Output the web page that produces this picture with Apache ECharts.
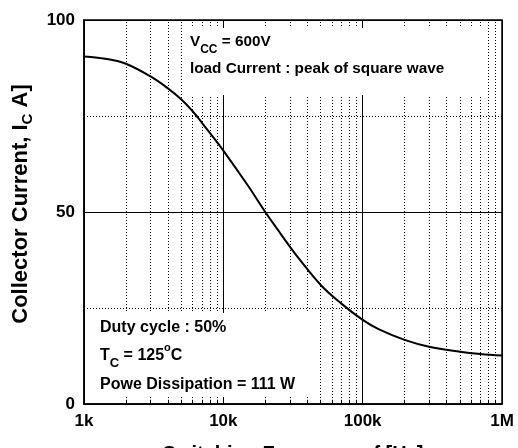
<!DOCTYPE html>
<html><head><meta charset="utf-8">
<script src="https://cdn.jsdelivr.net/npm/echarts@6/dist/echarts.min.js"></script>
<style>html,body{margin:0;padding:0;background:#fff}#c{width:518px;height:448px}</style>
</head><body><div id="c"></div>
<script>
// Switching frequency [Hz]
const frequency = [1000, 1500, 2000, 3000, 4000, 5000, 6000, 7000, 8000, 10000, 15000, 20000, 25000, 30000, 35000, 50000, 70000, 100000, 130000, 200000, 300000, 500000, 700000, 1000000];
// Collector current [A]
const collectorCurrent = [90.5, 89.8, 88.6, 85.3, 82.2, 79.3, 76.3, 73.3, 70.6, 66.0, 56.9, 50.0, 45.0, 41.0, 37.8, 31.0, 26.2, 21.9, 19.5, 16.7, 14.9, 13.6, 13.0, 12.6];
const xTickLabels = {1000: '1k', 10000: '10k', 100000: '100k', 1000000: '1M'};
const decades = [1000, 10000, 100000];
const minorMultipliers = [2, 3, 4, 5, 6, 7, 8, 9];

const FONT = 'Liberation Sans, Arial, Helvetica, sans-serif';
const minorX = [];
decades.forEach(d => minorMultipliers.forEach(m => minorX.push(d * m)));

const chart = echarts.init(document.getElementById('c'), null, {renderer: 'canvas'});
const txt = (fs) => ({fontFamily: FONT, fontWeight: 'bold', color: '#000', fontSize: fs});

chart.setOption({
  animation: false,
  backgroundColor: '#fff',
  grid: {left: 84, right: 16, top: 20, bottom: 44, containLabel: false, outerBoundsMode: 'none',
    show: true, borderColor: '#000', borderWidth: 1.5, backgroundColor: 'transparent'},
  xAxis: {
    type: 'log', logBase: 10, min: 1000, max: 1000000,
    name: 'Switching Frequency, f [Hz]', nameLocation: 'middle', nameGap: 40,
    nameTextStyle: Object.assign(txt(20), {verticalAlign: 'top'}),
    axisLine: {show: true, lineStyle: {color: '#000', width: 1.5}},
    axisTick: {show: true, inside: true, length: 5, lineStyle: {color: '#000'}},
    axisLabel: Object.assign(txt(17), {margin: 9, formatter: v => xTickLabels[Math.round(v)] || ''}),
    splitLine: {show: true, lineStyle: {color: '#000', width: 1}}
  },
  yAxis: {
    type: 'value', min: 0, max: 100, interval: 50,
    name: '{a|Collector Current, I}{s|C}{a| A]}', nameLocation: 'middle', nameGap: 48,
    nameTextStyle: {padding: [0, 0, 0, 16], rich: {
      a: Object.assign(txt(22), {lineHeight: 30}),
      s: Object.assign(txt(15), {lineHeight: 14, verticalAlign: 'bottom'})
    }},
    axisLine: {show: true, lineStyle: {color: '#000', width: 1.5}},
    axisTick: {show: false},
    axisLabel: Object.assign(txt(17), {margin: 9}),
    splitLine: {show: true, lineStyle: {color: '#000', width: 1}},
    minorTick: {show: false, splitNumber: 2},
    minorSplitLine: {show: true, lineStyle: {color: '#000', width: 1, type: [1, 2]}}
  },
  series: [{
    type: 'line',
    data: frequency.map((f, i) => [f, collectorCurrent[i]]),
    smooth: 0.4,
    showSymbol: false,
    lineStyle: {color: '#000', width: 2},
    z: 3,
    markLine: {
      silent: true, symbol: 'none', label: {show: false}, animation: false,
      lineStyle: {color: '#000', width: 1, type: [1, 2]},
      data: minorX.map(v => ({xAxis: v}))
    }
  }, {
    type: 'line', data: [], silent: true,
    markLine: {
      silent: true, symbol: 'none', label: {show: false}, animation: false,
      lineStyle: {color: '#000', width: 1, type: 'solid'},
      data: minorX.map(v => [{coord: [v, 0]}, {coord: [v, 1.1]}])
    }
  }],
  graphic: [
    {type: 'rect', z: 100, shape: {x: 186, y: 28, width: 296, height: 67}, style: {fill: '#fff'}},
    {type: 'text', z: 101, x: 190, y: 42, style: {
      text: '{a|V}{s|CC}{a| = 600V}', verticalAlign: 'middle', align: 'left',
      rich: {a: Object.assign(txt(15.3), {lineHeight: 27}), s: Object.assign(txt(12), {lineHeight: 12, verticalAlign: 'bottom'})}
    }},
    {type: 'text', z: 101, x: 190, y: 69, style: {
      text: 'load Current : peak of square wave', fill: '#000', verticalAlign: 'middle', align: 'left', font: 'bold 15.3px ' + FONT
    }},
    {type: 'rect', z: 100, shape: {x: 86, y: 313, width: 226, height: 84}, style: {fill: '#fff'}},
    {type: 'text', z: 101, x: 100, y: 328, style: {
      text: 'Duty cycle : 50%', fill: '#000', verticalAlign: 'middle', align: 'left', font: 'bold 16px ' + FONT
    }},
    {type: 'text', z: 101, x: 100, y: 356, style: {
      text: '{a|T}{s|C}{a| = 125}{p|o}{a|C}', verticalAlign: 'middle', align: 'left',
      rich: {
        a: Object.assign(txt(16), {lineHeight: 28}),
        s: Object.assign(txt(13), {lineHeight: 12, verticalAlign: 'bottom'}),
        p: Object.assign(txt(11), {lineHeight: 20, verticalAlign: 'top'})
      }
    }},
    {type: 'text', z: 101, x: 100, y: 385, style: {
      text: 'Powe Dissipation = 111 W', fill: '#000', verticalAlign: 'middle', align: 'left', font: 'bold 16px ' + FONT
    }}
  ]
});
</script>
</body></html>
